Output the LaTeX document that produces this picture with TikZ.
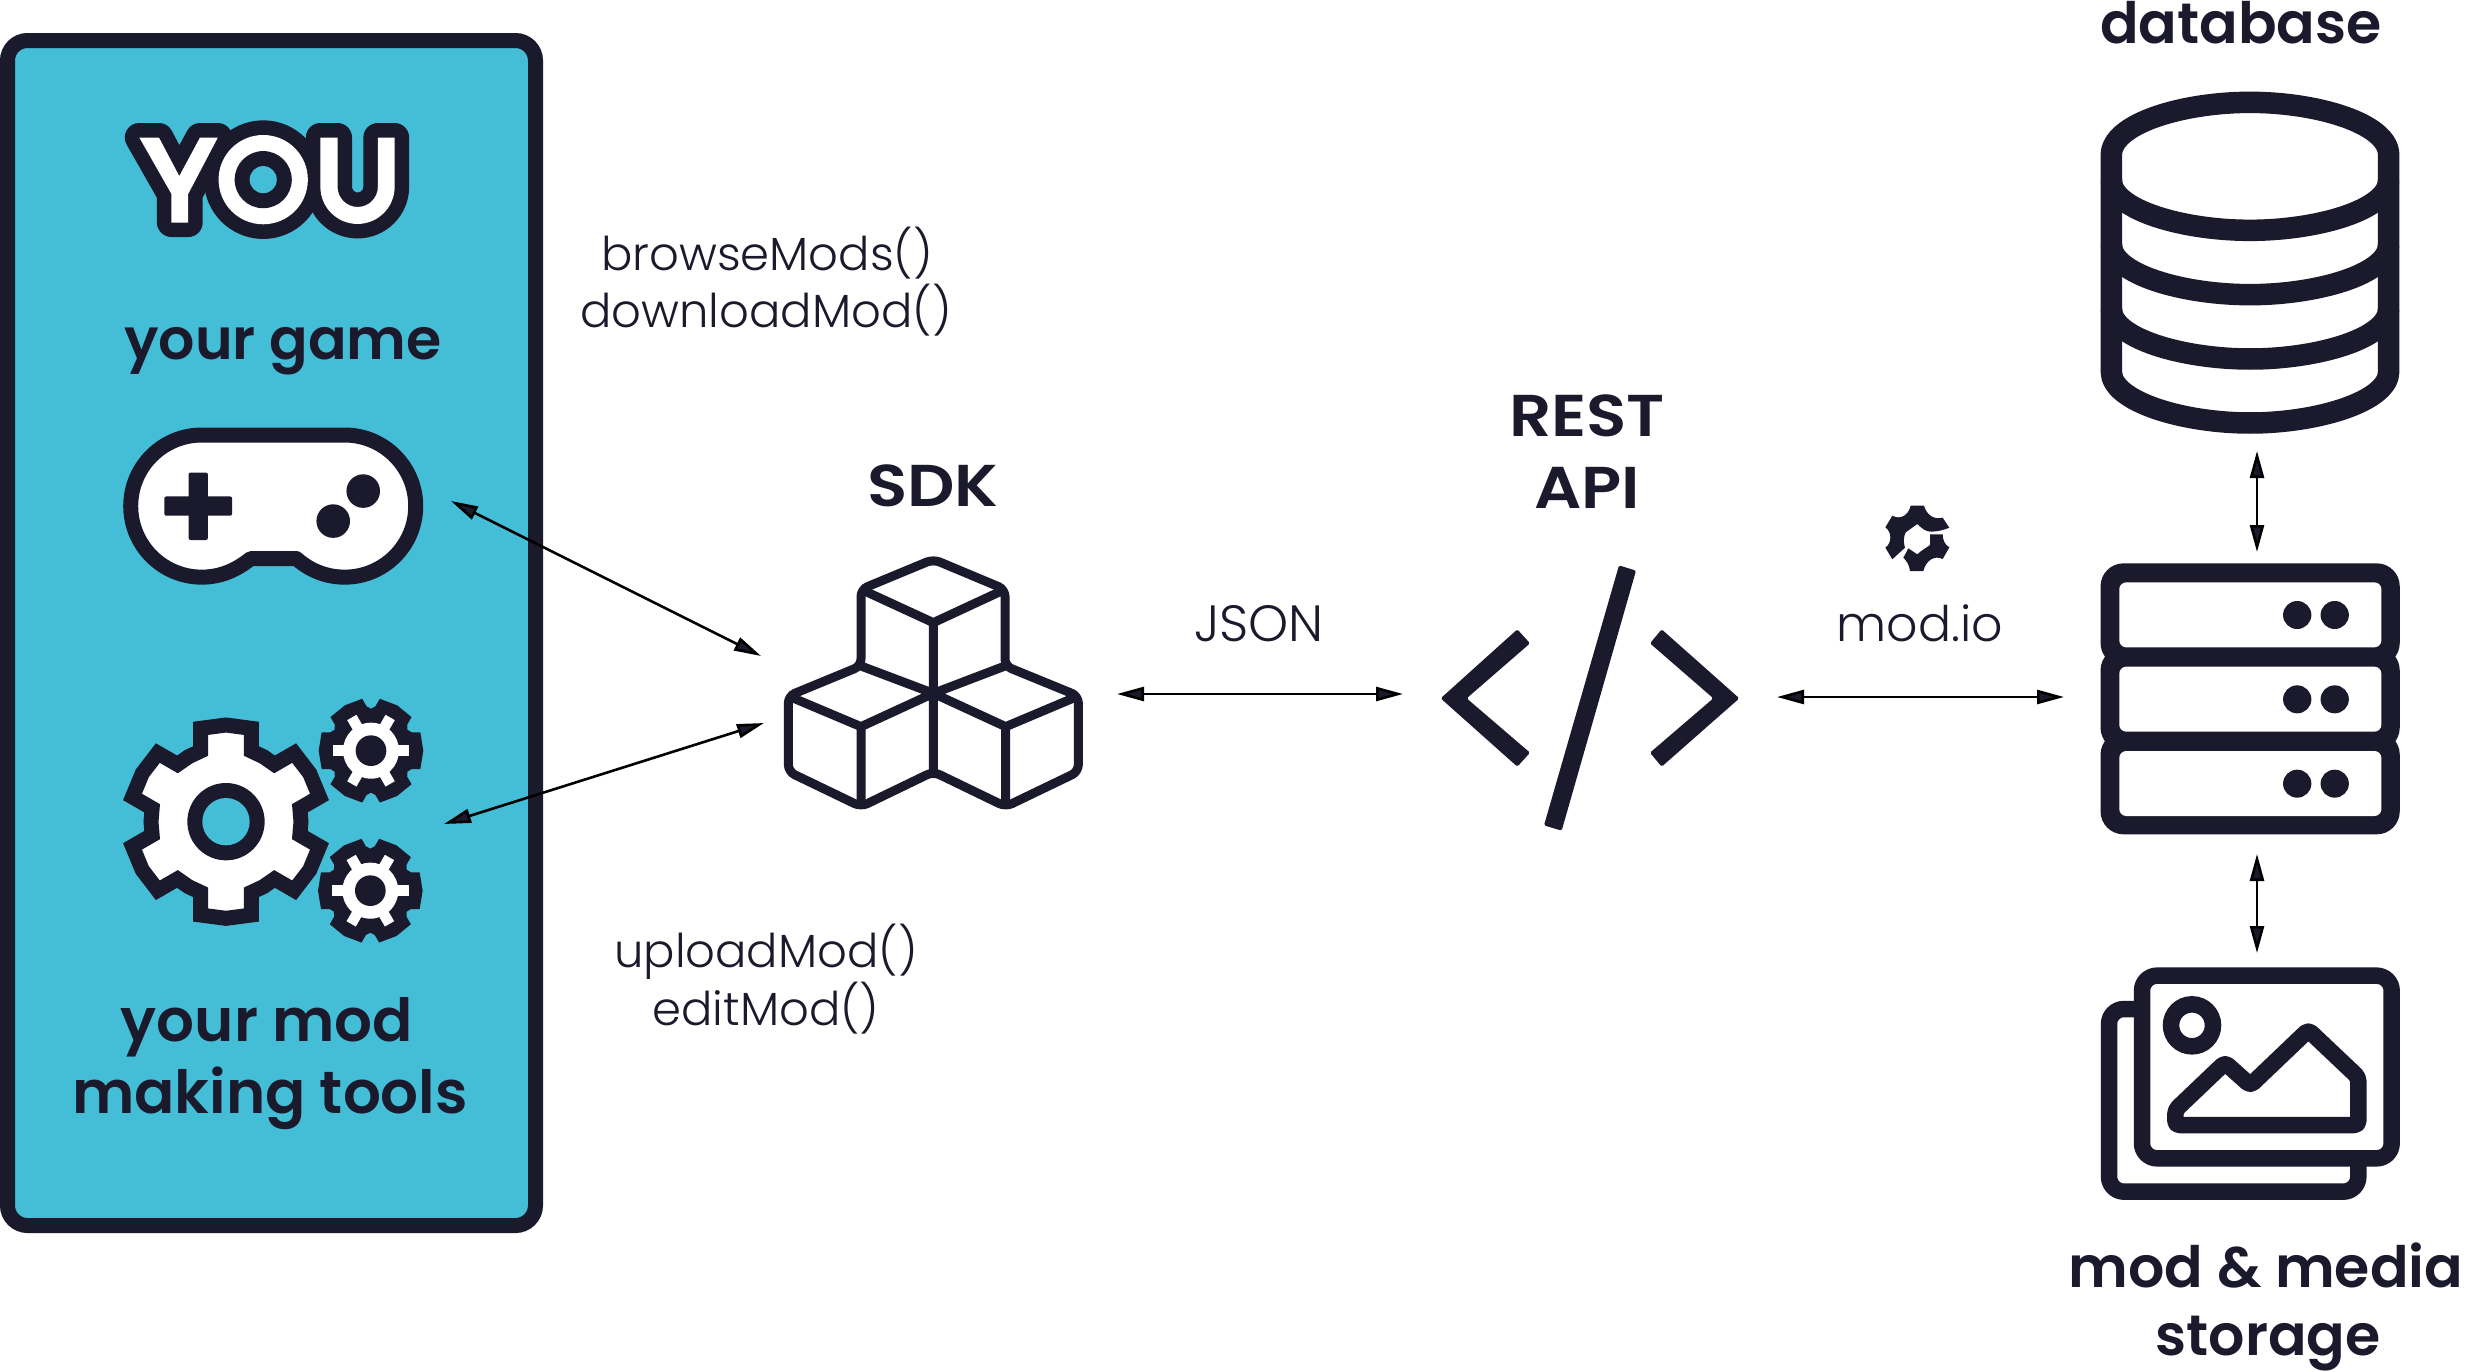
\documentclass[tikz,border=0pt]{standalone}
\usepackage{fontspec}
\usetikzlibrary{arrows.meta}
\setmainfont{Poppins}
\newfontfamily\fsb{Poppins SemiBold}
\newfontfamily\fcap{Poppins SemiBold}[FakeStretch=1.12]
\newfontfamily\flt{Poppins Light}
\definecolor{dark}{HTML}{1A1A2C}
\definecolor{teal}{HTML}{44BDD6}
\tikzset{
  x=1pt,y=-1pt,
  zm/.style n args={4}{shift={(#1,#2)},x=#3pt,y=-#4pt},
  conn/.style={draw=black,line width=2.6pt,{Triangle[length=27pt,width=14pt,fill=dark]}-{Triangle[length=27pt,width=14pt,fill=dark]}},
  head/.style={anchor=base,inner sep=0pt,text=dark,font=\fsb\fontsize{57}{60}\selectfont},
  caps/.style={anchor=base,inner sep=0pt,text=dark,font=\fcap\fontsize{59}{60}\selectfont},
  thin label/.style={anchor=base,inner sep=0pt,text=dark,font=\flt\fontsize{46.5}{52}\selectfont},
  icon/.style={draw=dark,line join=round},
}
\newcommand{\bigtooth}[1]{-- ([rotate=-#1]-76,-212) -- ([rotate=-#1]-76,-280) -- ([rotate=-#1]0,-290) -- ([rotate=-#1]76,-280) -- ([rotate=-#1]76,-212) -- ([rotate=-#1-30]0,-225)}
\newcommand{\smallgear}[2]{%
  \begin{scope}[shift={(#1,#2)}]
    \fill[dark] ([rotate=-30]-55,-122) \foreach \a in {30,90,...,330} { -- ([rotate=-\a]-55,-122) -- ([rotate=-\a]-55,-148) -- ([rotate=-\a]0,-157) -- ([rotate=-\a]55,-148) -- ([rotate=-\a]55,-122) -- ([rotate=-\a-30]0,-126)} -- cycle;
    \fill[white] (0,0) circle[radius=84];
    \foreach \a in {30,90,...,330} {\fill[white,rotate=\a] (-16,0) rectangle (16,-115);}
    \fill[dark] (0,0) circle[radius=46];
  \end{scope}}
\begin{document}
\begin{tikzpicture}
\useasboundingbox (0,0) rectangle (2466,1371);
% panel
\draw[draw=dark,fill=teal,line width=15pt,rounded corners=20pt] (7.5,40.5) rectangle (535.5,1225.5);
% YOU
\begin{scope}[zm={0}{60}{0.35714}{0.35714}]
  \def\ypath{(390,217) -- (445,217) -- (502,325) -- (560,217) -- (610,217) -- (527,375) -- (527,455) -- (480,455) -- (480,375) -- cycle}
  \def\upath{(897,217) -- (945,217) -- (945,355) arc[start angle=180,end angle=0,radius=56.5] -- (1058,217) -- (1105,217) -- (1105,355) arc[start angle=0,end angle=180,radius=104] -- cycle}
  \draw[draw=dark,fill=dark,line width=29pt,line join=round] \ypath;
  \fill[white] \ypath;
  \draw[draw=dark,fill=dark,line width=29pt,line join=round] \upath;
  \fill[dark] (737,335) circle[radius=166];
  \fill[white] \upath;
  \fill[white] (737,335) circle[radius=125];
  \fill[dark] (737,335) circle[radius=80];
  \fill[teal] (737,335) circle[radius=38];
  % gamepad
  \draw[icon,fill=white,line width=15pt] (565,1050) -- (965,1050) arc[start angle=-90,end angle=90,radius=199] .. controls (915,1448) and (868,1430) .. (830,1396) -- (702,1396) .. controls (660,1430) and (615,1448) .. (565,1448) arc[start angle=90,end angle=270,radius=199] -- cycle;
  \fill[dark,rounded corners=2pt] (528,1155) rectangle (582,1344);
  \fill[dark,rounded corners=2pt] (460,1222) rectangle (650,1276);
  \fill[dark] (1017,1207) circle[radius=47];
  \fill[dark] (933,1291) circle[radius=47];
\end{scope}
\node[head] (yourgame) at (283,359) {your game};
\node[head,font=\fsb\fontsize{59.5}{60}\selectfont] (yourmod) at (267,1041) {your mod};
\node[head,font=\fsb\fontsize{59.5}{60}\selectfont] (makingtools) at (270,1113) {making tools};
% gears
\begin{scope}[zm={100}{680}{0.33333}{0.33333}]
  \begin{scope}[shift={(378,425)}]
    \draw[draw=dark,fill=white,line width=15pt,line join=miter] ([rotate=0]-76,-212) \bigtooth{0} \bigtooth{60} \bigtooth{120} \bigtooth{180} \bigtooth{240} \bigtooth{300} -- cycle;
    \fill[dark] (0,0) circle[radius=116];
    \fill[teal] (0,0) circle[radius=71];
  \end{scope}
  \smallgear{813}{212}
  \smallgear{811}{632}
\end{scope}
% cubes
\begin{scope}[zm={760}{530}{0.33333}{0.33333}]
  \draw[icon,line width=9pt,rounded corners=7pt] (303,408) -- (85,498) -- (85,725) -- (303,830) -- (520,725) -- (737,830) -- (955,725) -- (955,498) -- (735,408) -- (735,178) -- (520,88) -- (303,178) -- cycle;
  \draw[icon,line width=9pt] (303,178) -- (520,278) -- (735,178) (520,278) -- (520,725)
    (303,408) -- (520,490) -- (735,408)
    (85,498) -- (303,590) -- (520,490) -- (737,590) -- (955,498)
    (303,590) -- (303,830) (737,590) -- (737,830);
\end{scope}
\node[caps] (sdk) at (933,506) {SDK};
\node[caps] (rest) at (1587,436) {REST};
\node[caps] (api) at (1587,508) {API};
% code icon
\begin{scope}[zm={1420}{550}{0.33333}{0.33333}]
  \fill[dark,rounded corners=1.5pt] (62,445) -- (292,238) -- (330,280) -- (140,445) -- (330,608) -- (292,650) -- cycle;
  \fill[dark,rounded corners=1.5pt] (958,445) -- (725,238) -- (690,280) -- (880,445) -- (690,608) -- (725,650) -- cycle;
  \fill[dark,rounded corners=1.5pt] (597,46) -- (648,62) -- (425,842) -- (372,826) -- cycle;
\end{scope}
% database
\node[head] (database) at (2241,43) {database};
\begin{scope}[zm={2080}{0}{0.33333}{0.33333}]
  \draw[icon,line width=21.5pt] (94,465) .. controls (94,370) and (310,307) .. (510,307) .. controls (710,307) and (926,370) .. (926,465) -- (926,1115) .. controls (926,1205) and (710,1269) .. (510,1269) .. controls (310,1269) and (94,1205) .. (94,1115) -- cycle;
  \foreach \d in {0,193,386} {
    \draw[draw=dark,line width=21.5pt] (94,540+\d) .. controls (94,630+\d) and (310,691+\d) .. (510,691+\d) .. controls (710,691+\d) and (926,630+\d) .. (926,540+\d);
  }
\end{scope}
% server
\begin{scope}[zm={1820}{480}{0.38267}{0.33333}]
  \fill[dark,rounded corners=23pt] (733,250) rectangle (1515,558);
  \fill[dark,rounded corners=23pt] (733,502) rectangle (1515,812);
  \fill[dark,rounded corners=23pt] (733,755) rectangle (1515,1063);
  \foreach \y in {0,253,506} {
    \fill[white,rounded corners=7pt] (782,307+\y) rectangle (1467,502+\y);
    \fill[dark] (1247,405+\y) ellipse[x radius=37,y radius=42];
    \fill[dark] (1345,405+\y) ellipse[x radius=37,y radius=42];
  }
\end{scope}
% image stack
\begin{scope}[zm={2080}{940}{0.33333}{0.33333}]
  \draw[icon,fill=white,line width=16.5pt,rounded corners=15pt] (87,207) rectangle (835,755);
  \draw[icon,fill=white,line width=16.5pt,rounded corners=15pt] (186,107) rectangle (935,655);
  \draw[draw=dark,line width=16.5pt] (336,256) circle[radius=63];
  \draw[icon,line width=16.5pt,rounded corners=4pt] (286,555) -- (286,510) -- (435,368) -- (511,436) -- (685,270) -- (835,412) -- (835,555) -- cycle;
\end{scope}
\node[head] (modmedia) at (2266,1287) {mod \& media};
\node[head] (storage) at (2268,1355) {storage};
% mod.io logo
\begin{scope}[zm={1860}{495}{0.33333}{0.33333}]
  \fill[dark] (268,98) -- (248,68) .. controls (225,75) and (200,62) .. (192,32) -- (152,32) .. controls (145,62) and (120,75) .. (97,62) -- (76,97) .. controls (96,110) and (96,145) .. (76,158) -- (97,193) .. controls (105,185) and (122,170) .. (135,158) .. controls (130,145) and (130,125) .. (137,112) -- (172,87) .. controls (185,100) and (195,108) .. (210,110) .. controls (230,110) and (250,106) .. (268,98) -- cycle;
  \fill[dark] (210,118) -- (248,118) .. controls (248,135) and (255,150) .. (268,157) -- (248,192) .. controls (225,180) and (198,195) .. (190,228) -- (150,228) .. controls (148,210) and (140,198) .. (130,188) -- (145,160) -- (172,178) .. controls (185,165) and (200,158) .. (210,150) -- cycle;
\end{scope}
% labels
\node[thin label] (browse) at (767,270) {browseMods()};
\node[thin label] (download) at (766,327) {downloadMod()};
\node[thin label] (upload) at (766,967) {uploadMod()};
\node[thin label] (edit) at (766,1025) {editMod()};
\node[thin label,font=\flt\fontsize{51}{52}\selectfont] (json) at (1259,641) {JSON};
\node[thin label,font=\flt\fontsize{49}{52}\selectfont] (modio) at (1920,641) {mod.io};
% connector ends
\coordinate (padR) at (451,501);
\coordinate (sdkUL) at (761,656);
\coordinate (gearR) at (444,824);
\coordinate (sdkLL) at (764,723);
\coordinate (sdkR) at (1117,694);
\coordinate (apiL) at (1403,694);
\coordinate (apiR) at (1777,697);
\coordinate (srvL) at (2064,697);
\coordinate (dbB) at (2257,451);
\coordinate (srvT) at (2257,552);
\coordinate (srvB) at (2257,854);
\coordinate (imgT) at (2257,953);
\draw[conn] (padR) -- (sdkUL);
\draw[conn] (gearR) -- (sdkLL);
\draw[conn] (sdkR) -- (apiL);
\draw[conn] (apiR) -- (srvL);
\draw[conn] (dbB) -- (srvT);
\draw[conn] (srvB) -- (imgT);
\end{tikzpicture}
\end{document}
